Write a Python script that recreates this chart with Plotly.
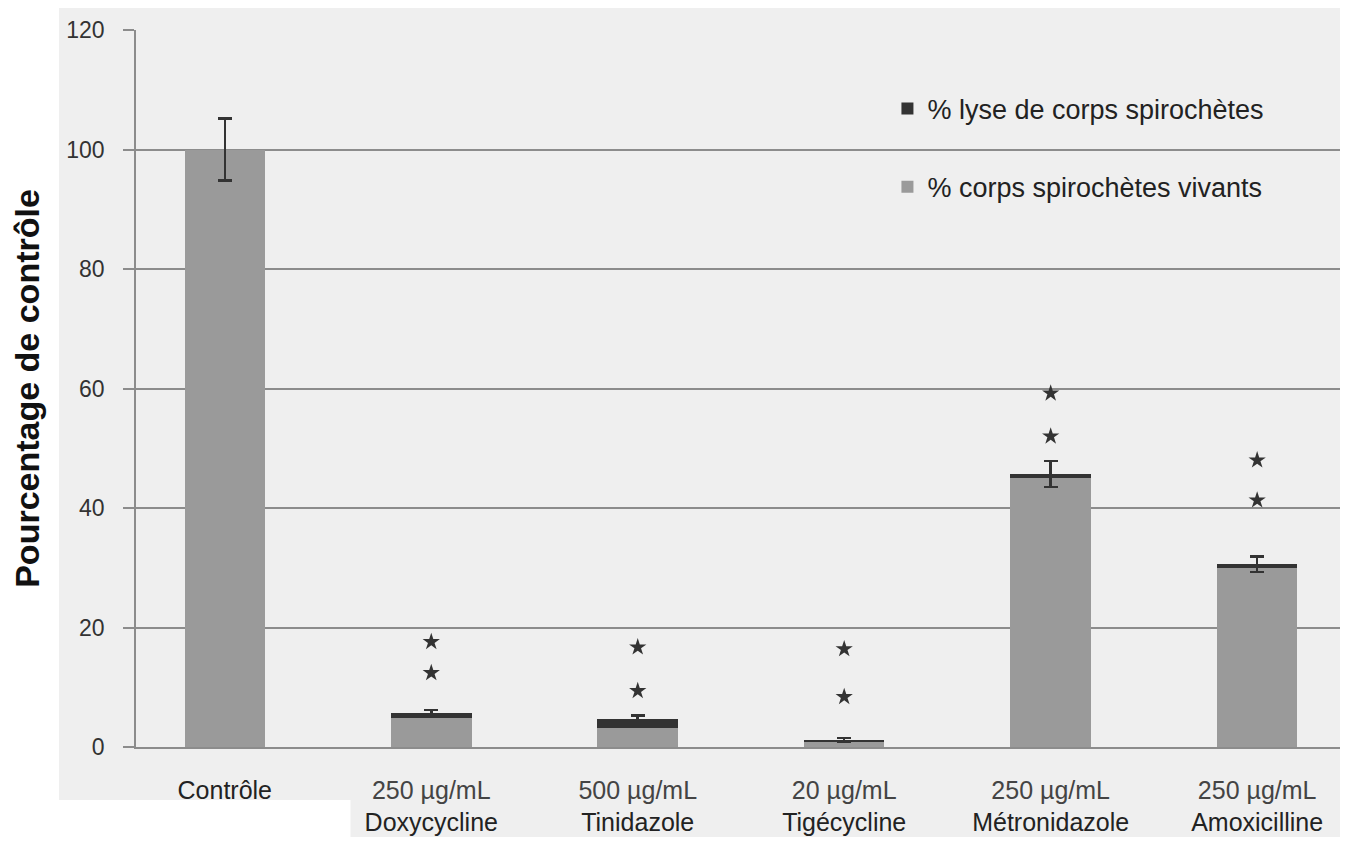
import plotly.graph_objects as go

categories = ["Contrôle", "Doxycycline", "Tinidazole", "Tigécycline", "Métronidazole", "Amoxicilline"]
doses = ["", "250 µg/mL", "500 µg/mL", "20 µg/mL", "250 µg/mL", "250 µg/mL"]
vivants = [100.0, 4.8, 3.2, 0.9, 45.0, 30.0]
lyse = [0.0, 0.9, 1.5, 0.3, 0.7, 0.6]
erreur = [5.2, 0.5, 0.6, 0.3, 2.2, 1.3]
etoile_basse = [None, 12.4, 9.4, 8.4, 52.0, 41.3]
etoile_haute = [None, 17.6, 16.7, 16.4, 59.2, 48.0]
y_ticks = [0, 20, 40, 60, 80, 100, 120]

x_idx = list(range(len(categories)))
ticktext = []
for c, d in zip(categories, doses):
    if d:
        ticktext.append(f"<span style='color:#444444'>{d}</span><br>{c}")
    else:
        ticktext.append(c)

fig = go.Figure()
fig.add_trace(go.Bar(
    x=x_idx, y=vivants, name="% corps spirochètes vivants",
    marker=dict(color="#9a9a9a", line=dict(width=0)),
    width=0.39, legendgroup="b", legendrank=2,
))
fig.add_trace(go.Bar(
    x=x_idx, y=lyse, name="% lyse de corps spirochètes",
    marker=dict(color="#333333", line=dict(width=0)),
    width=0.39, legendgroup="a", legendrank=1,
    error_y=dict(type="data", array=erreur, visible=True, color="#333333",
                 thickness=2.5, width=7),
))
for ys in (etoile_basse, etoile_haute):
    fig.add_trace(go.Scatter(
        x=x_idx, y=ys, mode="markers",
        marker=dict(symbol="star", size=13, color="#333333"),
        showlegend=False, hoverinfo="skip",
    ))

fig.update_layout(
    width=1340, height=829,
    barmode="stack",
    margin=dict(l=128, r=0, t=22, b=90, autoexpand=False),
    paper_bgcolor="white",
    plot_bgcolor="#efefef",
    font=dict(family="Liberation Sans, Arial, sans-serif", color="#222222"),
    legend=dict(
        x=0.62, y=0.924, xanchor="left", yanchor="top",
        traceorder="grouped", tracegroupgap=40,
        font=dict(size=27, color="#222222"),
        bgcolor="rgba(0,0,0,0)",
    ),
    shapes=[
        dict(type="rect", xref="paper", yref="paper",
             x0=-0.0635, x1=1.01, y0=-0.074, y1=1.05,
             fillcolor="#efefef", line=dict(width=0), layer="below"),
        dict(type="rect", xref="paper", yref="paper",
             x0=0.177, x1=1.01, y0=-0.15, y1=-0.07,
             fillcolor="#efefef", line=dict(width=0), layer="below"),
    ],
)
fig.update_xaxes(
    range=[-0.43, 5.44], automargin=False,
    tickvals=x_idx, ticktext=ticktext,
    tickfont=dict(size=25, color="#222222"),
    ticklabelstandoff=20,
    showline=True, linecolor="#8c8c8c", linewidth=1.5,
    showgrid=False, zeroline=False, ticks="",
)
fig.update_yaxes(
    range=[0, 120], automargin=False,
    tickvals=y_ticks,
    tickfont=dict(size=23, color="#333333"),
    showline=True, linecolor="#8c8c8c", linewidth=1.5,
    ticks="outside", ticklen=11, tickcolor="#8c8c8c", tickwidth=1.5,
    ticklabelstandoff=14,
    showgrid=True, gridcolor="#8c8c8c", gridwidth=1.5,
    zeroline=False,
    title=dict(text="<b>Pourcentage de contrôle</b>", font=dict(size=34, color="#111111"),
               standoff=26),
)

fig.write_html("out.html")
